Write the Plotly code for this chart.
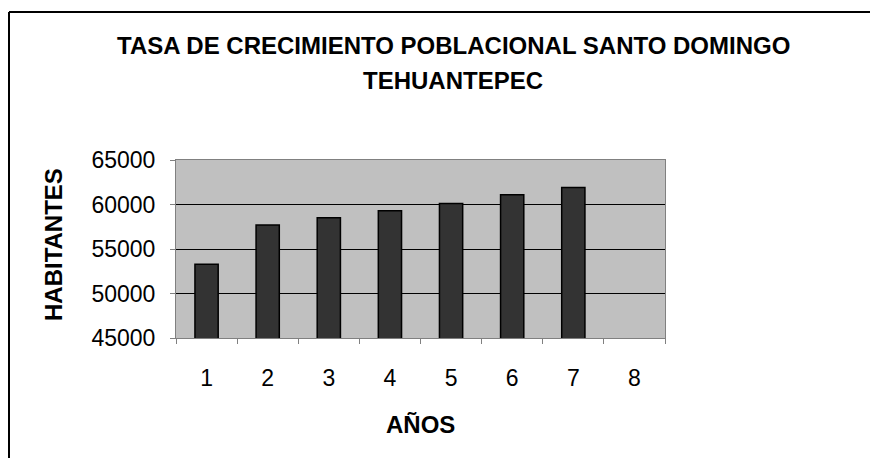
import plotly.graph_objects as go

years = ["1", "2", "3", "4", "5", "6", "7", "8"]
habitantes = [53300, 57700, 58500, 59300, 60100, 61100, 61900, None]
y_ticks = [45000, 50000, 55000, 60000, 65000]
title_line1 = "TASA DE CRECIMIENTO POBLACIONAL SANTO DOMINGO"
title_line2 = "TEHUANTEPEC"

FONT = "Liberation Sans, Arial, sans-serif"

fig = go.Figure()
fig.add_trace(go.Bar(
    x=years, y=habitantes,
    marker=dict(color="#333333", line=dict(color="#000000", width=1.5)),
    width=0.38,
))

# page has an 8px body margin; work in reference pixel coords and offset
OFF = 8
W, H = 862, 450
L, T = 176 - OFF, 160 - OFF
R = W - (665 - OFF)
B = H - (338 - OFF)
pw, ph = W - L - R, H - T - B

def px(xp):
    return (xp - OFF - L) / pw

def py(yp):
    return (H - B - (yp - OFF)) / ph

fig.update_layout(
    width=W, height=H,
    margin=dict(l=L, r=R, t=T, b=B, pad=0),
    paper_bgcolor="white",
    plot_bgcolor="#c0c0c0",
    showlegend=False,
    font=dict(family=FONT, size=23, color="black"),
    xaxis=dict(
        type="category", categoryorder="array", categoryarray=years,
        range=[-0.5, 7.5],
        tickson="boundaries", ticks="outside", ticklen=5, tickcolor="#808080",
        showline=True, linecolor="#808080", linewidth=1, mirror=True,
        showgrid=False, ticklabelstandoff=19,
        tickfont=dict(family=FONT, size=23),
    ),
    yaxis=dict(
        range=[45000, 65000], tickvals=y_ticks,
        ticktext=[str(v) for v in y_ticks],
        ticks="outside", ticklen=5, tickcolor="#808080",
        showline=True, linecolor="#808080", linewidth=1, mirror=True,
        showgrid=True, gridcolor="#000000", gridwidth=1,
        zeroline=False, ticklabelstandoff=10,
        tickfont=dict(family=FONT, size=23),
    ),
    annotations=[
        dict(text=f"<b>{title_line1}</b>", x=px(453), y=py(45), xref="paper", yref="paper",
             showarrow=False, xanchor="center", yanchor="middle",
             font=dict(family=FONT, size=24)),
        dict(text=f"<b>{title_line2}</b>", x=px(453), y=py(80), xref="paper", yref="paper",
             showarrow=False, xanchor="center", yanchor="middle",
             font=dict(family=FONT, size=24)),
        dict(text="<b>HABITANTES</b>", x=px(53), y=py(245), xref="paper", yref="paper",
             showarrow=False, xanchor="center", yanchor="middle", textangle=-90,
             font=dict(family=FONT, size=24)),
        dict(text="<b>AÑOS</b>", x=px(420), y=py(424), xref="paper", yref="paper",
             showarrow=False, xanchor="center", yanchor="middle",
             font=dict(family=FONT, size=24)),
    ],
    shapes=[
        dict(type="line", xref="paper", yref="paper",
             x0=px(9), x1=px(9), y0=py(500), y1=py(12),
             line=dict(color="black", width=2), layer="below"),
        dict(type="line", xref="paper", yref="paper",
             x0=px(9), x1=px(900), y0=py(12), y1=py(12),
             line=dict(color="black", width=2), layer="below"),
    ],
)

fig.write_html("out.html")
